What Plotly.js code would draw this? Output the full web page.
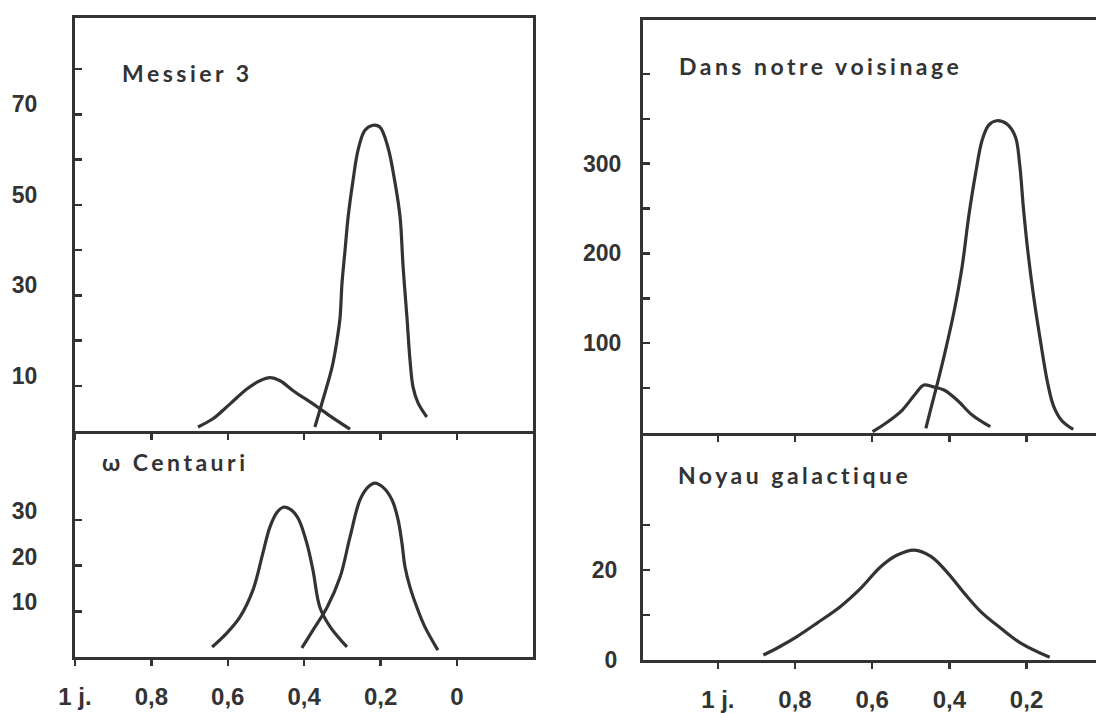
<!DOCTYPE html>
<html><head><meta charset="utf-8">
<script src="https://cdn.plot.ly/plotly-3.0.1.min.js"></script>
<style>html,body{margin:0;padding:0;background:#fff}#chart{width:1096px;height:713px}</style>
</head><body><div id="chart"></div>
<script>
// Period (days) axis tick values and labels
const xTickVals = [1, 0.8, 0.6, 0.4, 0.2, 0];
const xTickText = ['1 j.', '0,8', '0,6', '0,4', '0,2', '0'];

// Messier 3
const m3Short_x = [0.678,0.639,0.594,0.550,0.516,0.490,0.463,0.429,0.377,0.325,0.280];
const m3Short_y = [0.9,2.7,6.0,9.3,11.1,11.8,11.1,8.9,6.0,2.9,0.4];
const m3Long_x = [0.372,0.351,0.327,0.314,0.306,0.301,0.293,0.285,0.272,0.259,0.241,0.220,0.202,0.181,0.162,0.149,0.141,0.131,0.123,0.115,0.102,0.079];
const m3Long_y = [0.9,6.9,14.1,20.1,25.2,32.7,40.0,47.3,55.5,62.1,66.5,67.6,67.2,62.8,54.8,47.3,36.2,25.2,15.7,9.7,6.2,3.1];

// omega Centauri
const omA_x = [0.641,0.602,0.568,0.534,0.508,0.490,0.471,0.455,0.437,0.416,0.393,0.377,0.359,0.332,0.288];
const omA_y = [2.2,5.3,8.8,14.7,22.8,28.4,31.7,32.8,32.4,30.4,24.9,19.0,10.9,6.6,2.2];
const omB_x = [0.406,0.377,0.340,0.306,0.280,0.254,0.233,0.215,0.194,0.170,0.154,0.144,0.136,0.123,0.105,0.084,0.050];
const omB_y = [2.0,5.9,10.9,17.5,26.3,34.4,37.2,38.1,37.2,34.4,30.0,24.9,19.7,15.3,10.9,6.6,1.5];

// Dans notre voisinage
const voisA_x = [0.599,0.565,0.522,0.487,0.466,0.444,0.414,0.380,0.341,0.294];
const voisA_y = [1.5,10.8,25.6,44.2,53.5,51.6,47.9,36.7,20.0,7.0];
const voisB_x = [0.461,0.449,0.431,0.410,0.388,0.367,0.350,0.332,0.315,0.298,0.277,0.251,0.229,0.218,0.208,0.196,0.181,0.163,0.145,0.130,0.109,0.079];
const voisB_y = [5.2,25.6,55.3,92.4,135.0,185.2,240.9,289.2,326.3,343.0,347.8,344.1,330.0,300.0,250.0,200.0,150.0,100.0,55.0,30.0,14.0,4.0];

// Noyau galactique
const noy_x = [0.882,0.839,0.795,0.743,0.682,0.630,0.578,0.535,0.491,0.448,0.404,0.361,0.318,0.266,0.214,0.140];
const noy_y = [1.1,3.0,5.2,8.2,11.9,15.9,20.7,23.3,24.4,23.0,19.3,14.8,10.7,7.0,3.7,0.6];

// panel titles
const titles = ['Messier 3', 'ω Centauri', 'Dans notre voisinage', 'Noyau galactique'];

const INK = '#333333';
const lineStyle = {color: INK, width: 3.2, shape: 'spline', smoothing: 1};
function tr(x, y, xa, ya) {
  return {x: x, y: y, xaxis: xa, yaxis: ya, mode: 'lines', line: lineStyle, hoverinfo: 'skip', showlegend: false};
}
const data = [
  tr(m3Short_x, m3Short_y, 'x', 'y'),
  tr(m3Long_x, m3Long_y, 'x', 'y'),
  tr(omA_x, omA_y, 'x2', 'y2'),
  tr(omB_x, omB_y, 'x2', 'y2'),
  tr(voisA_x, voisA_y, 'x3', 'y3'),
  tr(voisB_x, voisB_y, 'x3', 'y3'),
  tr(noy_x, noy_y, 'x4', 'y4')
];

const W = 1096, H = 713;
const tickFontX = {family: 'Liberation Sans, Arial, sans-serif', size: 24, color: INK, weight: 'bold'};
const tickFontY = {family: 'Liberation Sans, Arial, sans-serif', size: 23, color: INK, weight: 'bold'};

function xAxis(domain, range, anchor, opts) {
  return Object.assign({
    domain: domain, range: range, anchor: anchor,
    showgrid: false, zeroline: false,
    showline: true, linecolor: INK, linewidth: 3,
    tickmode: 'array', tickvals: xTickVals, ticktext: xTickText,
    ticks: 'outside', ticklen: 6, tickwidth: 2.5, tickcolor: INK,
    tickfont: tickFontX, ticklabelstandoff: 10
  }, opts);
}
function yAxis(domain, range, anchor, major, minor, opts) {
  return Object.assign({
    domain: domain, range: range, anchor: anchor,
    showgrid: false, zeroline: false,
    showline: true, linecolor: INK, linewidth: 3,
    tickmode: 'array', tickvals: major,
    ticks: 'inside', ticklen: 7, tickwidth: 2.5, tickcolor: INK,
    minor: {tickmode: 'array', tickvals: minor, ticks: 'inside', ticklen: 7, tickwidth: 2.5, tickcolor: INK},
    tickfont: tickFontY
  }, opts);
}

const leftX = [75 / W, 533 / W];
const rightX = [643 / W, 1];
const rangeL = [1.0, -0.199];
const rangeR = [1.194, 0.02];

const layout = {
  width: W, height: H,
  margin: {l: 0, r: 0, t: 0, b: 0},
  paper_bgcolor: '#ffffff', plot_bgcolor: '#ffffff',
  showlegend: false,
  xaxis: xAxis(leftX, rangeL, 'y', {showticklabels: false, mirror: true}),
  yaxis: yAxis([1 - 431 / H, 1 - 18 / H], [0, 91.3], 'x', [10, 30, 50, 70], [20, 40, 60, 80],
               {mirror: true, ticklabelstandoff: 30, ticklabelshift: -10}),
  xaxis2: xAxis(leftX, rangeL, 'y2', {}),
  yaxis2: yAxis([1 - 657 / H, 1 - 431 / H], [0, 49.5], 'x2', [10, 20, 30], [],
               {mirror: true, ticklabelstandoff: 30, ticklabelshift: -9}),
  xaxis3: xAxis(rightX, rangeR, 'y3', {showticklabels: false, mirror: true}),
  yaxis3: yAxis([1 - 433 / H, 1 - 20 / H], [0, 460], 'x3', [100, 200, 300], [50, 150, 250, 350, 400],
               {ticklabelstandoff: 14}),
  xaxis4: xAxis(rightX, rangeR, 'y4', {}),
  yaxis4: yAxis([1 - 660 / H, 1 - 433 / H], [0, 50.4], 'x4', [0, 20], [10, 30],
               {ticklabelstandoff: 18}),
  annotations: [
    {text: titles[0], px: 120, py: 73},
    {text: titles[1], px: 100, py: 462},
    {text: titles[2], px: 677, py: 66},
    {text: titles[3], px: 676, py: 475}
  ].map(a => ({
    text: '<span style="letter-spacing:3.5px">' + a.text + '</span>',
    xref: 'paper', yref: 'paper', x: a.px / W, y: 1 - a.py / H,
    xanchor: 'left', yanchor: 'middle', showarrow: false,
    font: {family: 'Lato, Noto Sans, sans-serif', size: 23, color: INK, weight: 'bold'}
  }))
};

Plotly.newPlot('chart', data, layout, {displayModeBar: false, staticPlot: true});
</script>
</body></html>
